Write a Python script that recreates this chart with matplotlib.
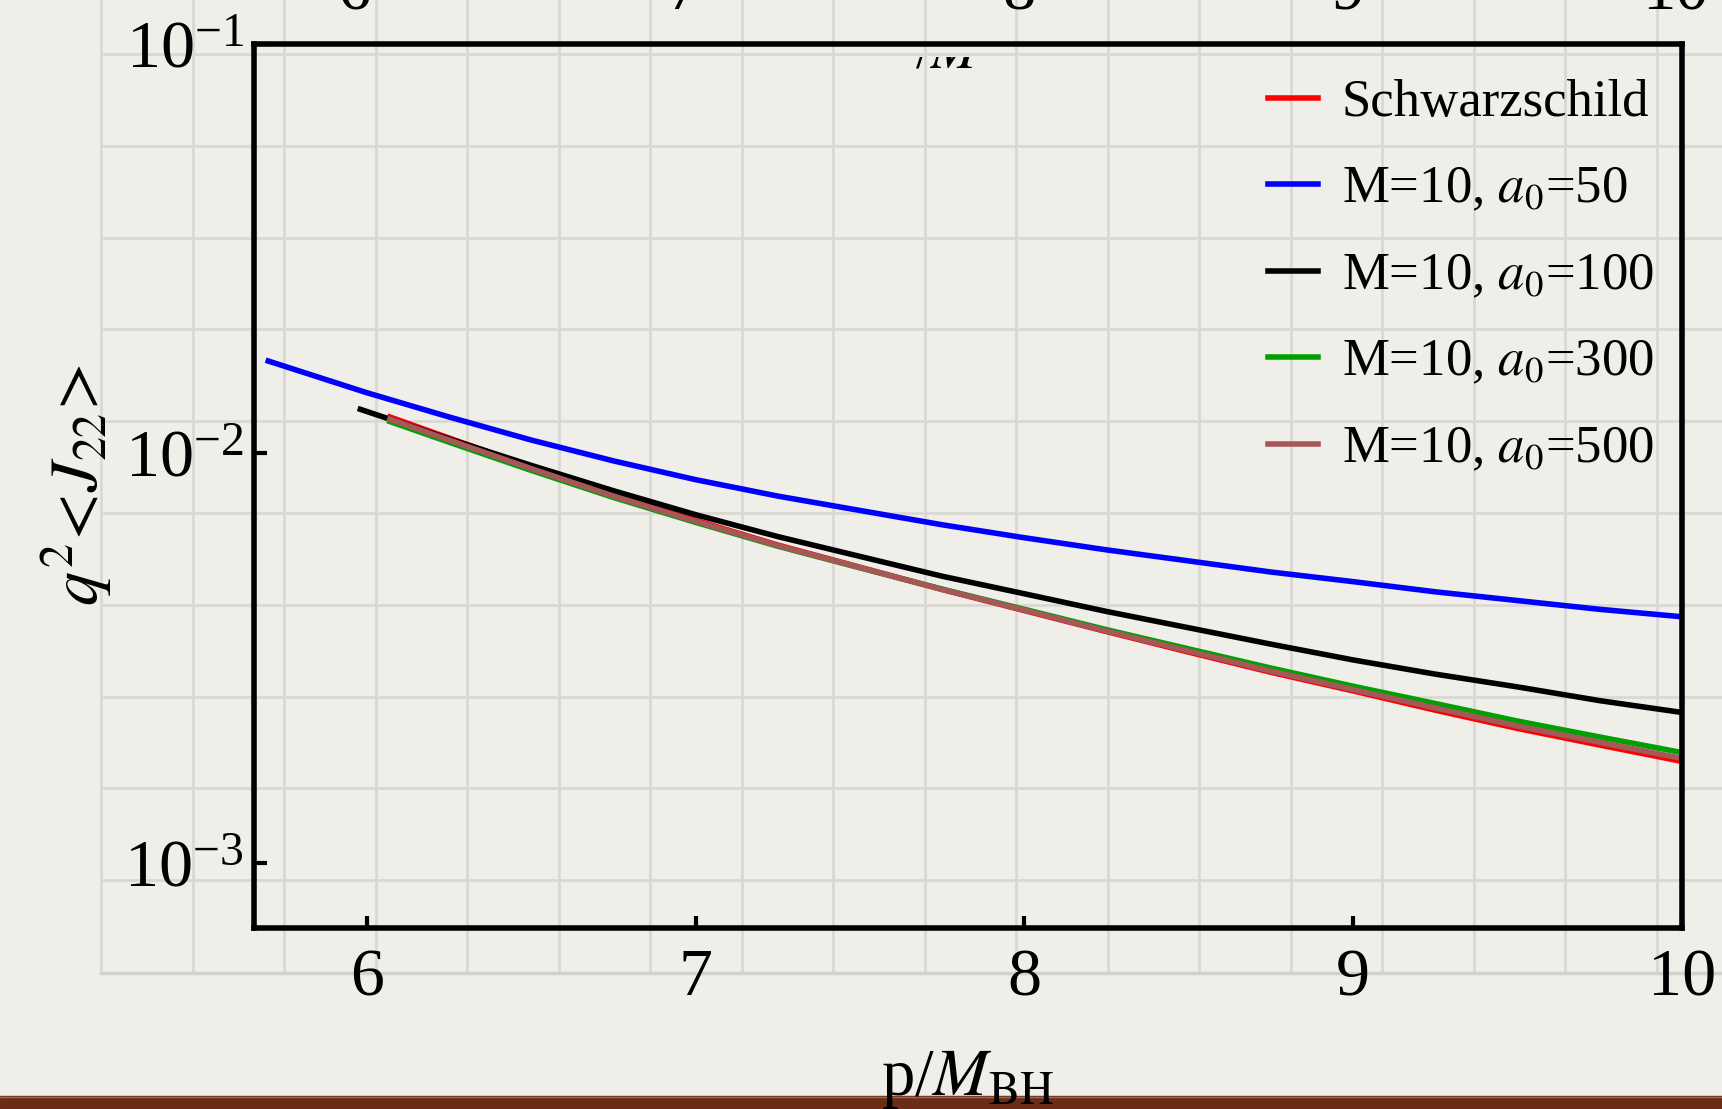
import matplotlib as mpl
import matplotlib.pyplot as plt
import numpy as np
from matplotlib.patches import Rectangle
from matplotlib.transforms import Bbox, TransformedBbox

W, H = 1722, 1109

# values: x = p/M_BH, y = q^2 <J_22>
x_schw = [6.07, 6.25, 6.5, 6.75, 7.0, 7.25, 7.5, 7.75, 8.0, 8.25, 8.5, 8.75, 9.0, 9.25, 9.5, 9.75, 10.0]
y_schw = [0.01226, 0.01089, 0.00926, 0.00792, 0.00686, 0.00597, 0.00527, 0.00465, 0.00413,
          0.00367, 0.00327, 0.00292, 0.00263, 0.00236, 0.00213, 0.00194, 0.00177]

x_a50 = [5.70, 6.0, 6.25, 6.5, 6.75, 7.0, 7.25, 7.5, 7.75, 8.0, 8.25, 8.5, 8.75, 9.0, 9.25, 9.5, 9.75, 10.0]
y_a50 = [0.01679, 0.01405, 0.01226, 0.01077, 0.00958, 0.00862, 0.00786, 0.00725, 0.00669,
         0.00622, 0.00581, 0.00546, 0.00513, 0.00486, 0.00459, 0.00437, 0.00416, 0.00399]

x_a100 = [5.98, 6.25, 6.5, 6.75, 7.0, 7.25, 7.5, 7.75, 8.0, 8.25, 8.5, 8.75, 9.0, 9.25, 9.5, 9.75, 10.0]
y_a100 = [0.01280, 0.01083, 0.00934, 0.00810, 0.00708, 0.00626, 0.00560, 0.00501, 0.00454,
          0.00411, 0.00375, 0.00342, 0.00313, 0.00289, 0.00269, 0.00249, 0.00233]

x_a300 = x_schw
y_a300 = [0.01195, 0.01064, 0.00908, 0.00780, 0.00678, 0.00593, 0.00525, 0.00466, 0.00416,
          0.00371, 0.00333, 0.00299, 0.00270, 0.00245, 0.00222, 0.00203, 0.00186]

x_a500 = x_schw
y_a500 = [0.01211, 0.01077, 0.00917, 0.00786, 0.00682, 0.00595, 0.00526, 0.00465, 0.00414,
          0.00368, 0.00329, 0.00294, 0.00265, 0.00239, 0.00216, 0.00197, 0.00180]

x_ticks = [6, 7, 8, 9, 10]
y_ticks = [1e-3, 1e-2, 1e-1]
# tick labels of the slide's upper plot, cut by the top edge
top_labels = ['6', '7', '8', '9', '10']

mpl.rcParams['font.family'] = 'serif'
mpl.rcParams['font.serif'] = ['Liberation Serif', 'DejaVu Serif']
mpl.rcParams['mathtext.fontset'] = 'stix'

fig = plt.figure(figsize=(W / 100, H / 100), dpi=100)
fig.patch.set_facecolor('#efeee9')

# paper sheet with squared grid, brown strip at the bottom
bg = fig.add_axes([0, 0, 1, 1], zorder=-1)
bg.set_xlim(0, W)
bg.set_ylim(H, 0)
bg.axis('off')
grid_c = '#d9d8d3'
for gx in np.arange(101, W, 91.5):
    bg.plot([gx, gx], [0, 972], color=grid_c, lw=2)
for gy in np.arange(54, 970, 91.8):
    bg.plot([101, W], [gy, gy], color=grid_c, lw=2)
bg.plot([101, W], [973, 973], color='#d2d1cc', lw=2.5)
bg.add_patch(Rectangle((0, 1096), W, 13, color='#6b2d18'))
bg.plot([0, W], [1096.5, 1096.5], color='#9c6b58', lw=1)

ax = fig.add_axes([253.5 / W, 1 - 927.5 / H, (1682 - 253.5) / W, (927.5 - 43.5) / H])
ax.set_facecolor('none')

lw = 4
ax.plot(x_schw, y_schw, color='#ff0000', lw=lw, label='Schwarzschild')
ax.plot(x_a50, y_a50, color='#0000ff', lw=lw, label=r'M=10, $a_0$=50')
ax.plot(x_a100, y_a100, color='black', lw=lw, label=r'M=10, $a_0$=100')
ax.plot(x_a300, y_a300, color='#00a000', lw=lw, label=r'M=10, $a_0$=300')
ax.plot(x_a500, y_a500, color='#a65757', lw=lw, label=r'M=10, $a_0$=500')

ax.set_yscale('log')
ax.set_xlim(5.655, 10)
ax.set_ylim(6.96e-4, 0.1)
ax.set_xticks(x_ticks)
ax.set_yticks(y_ticks)
ax.yaxis.set_minor_locator(mpl.ticker.NullLocator())
ax.tick_params(direction='in', length=9, width=3, labelsize=49, top=False, right=False)
ax.tick_params(axis='x', pad=15)
ax.tick_params(axis='y', pad=7)
for s in ax.spines.values():
    s.set_linewidth(4)

ax.set_ylabel(r'$q^2\!<\!J_{22}\!>$', fontsize=49)
ax.yaxis.set_label_coords(-0.098, 0.5)
ax.set_xlabel(r'p/$M_{\rm BH}$', fontsize=48)
ax.xaxis.set_label_coords(0.5, -0.136)

ax.legend(loc='upper left', bbox_to_anchor=(1268 / W, 1 - 79 / H), bbox_transform=fig.transFigure,
          frameon=False, fontsize=38, handlelength=0.95, handletextpad=0.45,
          labelspacing=0.73, borderpad=0, borderaxespad=0)

# leftovers of the upper plot peeking in at the top of the slide
for xt, lab in zip([354, 683, 1019, 1349, 1675], top_labels):
    fig.text(xt / W, 1 - 9 / H, lab, ha='center', va='baseline', fontsize=48)
frag = fig.text(915 / W, 1 - 68 / H, r'/$M$', ha='left', va='baseline', fontsize=40)
frag.set_clip_box(TransformedBbox(Bbox([[0, 1 - 69 / H], [1, 1 - 57 / H]]), fig.transFigure))
frag.set_clip_on(True)

fig.savefig('out.png', dpi=100, facecolor=fig.get_facecolor())
